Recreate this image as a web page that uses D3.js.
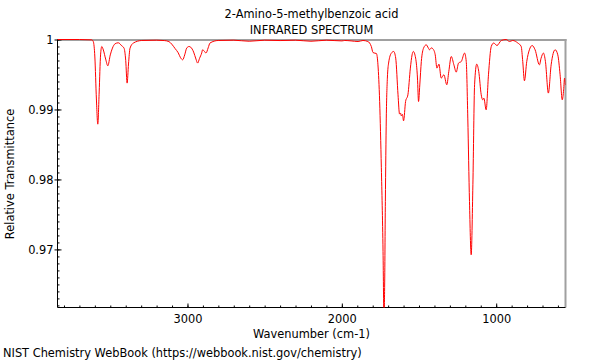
<!DOCTYPE html>
<html><head><meta charset="utf-8">
<script src="https://cdn.jsdelivr.net/npm/d3@7"></script>
<style>body{margin:0;background:#fff;} text{font-family:"DejaVu Sans",sans-serif;font-size:11.4px;fill:#000;}</style>
</head><body><svg id="c" width="600" height="360"></svg>
<script>
const wavenumbers = [3842,3700,3620,3610,3600,3590,3581,3572,3563,3555,3545,3530,3516,3500,3486,3469,3448,3426,3411,3400,3391,3382,3372,3350,3296,3200,3150,3120,3102,3080,3060,3045,3031,3018,3005,2990,2979,2960,2945,2934,2922,2908,2902,2890,2880,2866,2854,2801,2700,2600,2500,2400,2300,2200,2100,2000,1981,1940,1895,1863,1831,1820,1809,1798,1786,1776,1766,1755,1744,1733,1727,1723,1718,1712,1705,1697,1679,1664,1651,1636,1626,1620,1615,1608,1600,1587,1572,1556,1545,1537,1522,1510,1503,1495,1485,1470,1453,1440,1432,1420,1410,1395,1384,1371,1356,1339,1320,1307,1291,1274,1259,1244,1226,1205,1194,1184,1173,1162,1151,1140,1126,1113,1097,1087,1080,1065,1050,1032,1016,995,967,935,914,893,860,838,828,817,802,785,767,748,720,709,694,681,662,644,618,601,586,572,563,557,551];
const transmittance = [1.0,1.0,0.99995,0.9997,0.9975,0.9915,0.9879,0.9925,0.9978,0.9990,0.9985,0.9972,0.99624,0.9978,0.99877,0.99939,0.99953,0.9991,0.99877,0.9970,0.99377,0.9965,0.99877,0.9995,0.99986,0.9999,0.99985,0.9997,0.99934,0.9987,0.9981,0.9974,0.9971,0.9978,0.99877,0.9990,0.9989,0.9982,0.9972,0.99663,0.9973,0.99806,0.99853,0.9983,0.99806,0.9988,0.9995,0.99986,0.9999,0.99975,0.9999,0.99985,0.9999,0.99975,0.9999,0.9998,0.99986,0.9998,0.99971,0.99986,0.99971,0.9995,0.9990,0.99814,0.99805,0.9980,0.99638,0.99114,0.98167,0.9697,0.9600,0.9640,0.97685,0.98877,0.99448,0.99663,0.99806,0.99829,0.99734,0.9921,0.98934,0.9895,0.9891,0.9893,0.98838,0.99114,0.9921,0.99591,0.9978,0.99829,0.99734,0.9945,0.99114,0.9935,0.99686,0.9988,0.99924,0.9988,0.99853,0.9988,0.99867,0.99781,0.99591,0.99648,0.99448,0.99496,0.99353,0.99543,0.99757,0.99638,0.99534,0.99663,0.99686,0.99806,0.99686,0.98877,0.97685,0.96923,0.97924,0.99353,0.99648,0.99543,0.9921,0.99138,0.99162,0.98995,0.99496,0.999,0.9995,0.99914,0.99986,1.0,0.99971,0.99986,0.9995,0.999,0.99686,0.9941,0.99686,0.99853,0.99914,0.99853,0.99638,0.99734,0.99806,0.99686,0.99234,0.99638,0.99853,0.99781,0.99496,0.99138,0.99281,0.99448,0.9935];
const xMajorTicks = [3000, 2000, 1000];
const xMinorTicks = d3.range(600, 3801, 100);
const yMajorTicks = [1, 0.99, 0.98, 0.97];
const yTickLabels = ["1", "0.99", "0.98", "0.97"];
const yMinorTicks = d3.range(962, 1001, 1).map(v => v / 1000);
const titleLines = ["2-Amino-5-methylbenzoic acid", "INFRARED SPECTRUM"];
const xLabel = "Wavenumber (cm-1)";
const yLabel = "Relative Transmittance";
const footer = "NIST Chemistry WebBook (https://webbook.nist.gov/chemistry)";

const L = 57.5, R = 565.5, T = 39.5, B = 307.5;
const FS = 11.4;
const svg = d3.select("#c");
const x = d3.scaleLinear().domain([3842, 551]).range([L, R]);
const y = d3.scaleLinear().domain([0.9617, 1.0]).range([B, T]);

svg.append("defs").append("clipPath").attr("id", "clip")
  .append("rect").attr("x", L).attr("y", T - 2).attr("width", R - L).attr("height", B - T + 2);

// frame top/right (gray)
svg.append("line").attr("x1", L).attr("x2", R + 1).attr("y1", 40).attr("y2", 40)
  .attr("stroke", "#a0a0a0").attr("stroke-width", 2);
svg.append("line").attr("x1", R).attr("x2", R).attr("y1", 39).attr("y2", B)
  .attr("stroke", "#a0a0a0").attr("stroke-width", 2);

// x axis
const gx = svg.append("g").attr("transform", `translate(0,${B})`);
gx.append("g").call(d3.axisBottom(x).tickValues(xMinorTicks).tickSize(-2).tickFormat(""))
  .call(g => g.select(".domain").remove());
gx.append("g").call(d3.axisBottom(x).tickValues(xMajorTicks).tickSize(-4).tickPadding(7).tickFormat(d3.format("d")))
  .call(g => g.select(".domain").remove())
  .call(g => g.selectAll("text").attr("font-size", FS).attr("font-family", "DejaVu Sans").attr("fill", "#000"));
svg.append("line").attr("x1", L).attr("x2", R).attr("y1", B).attr("y2", B).attr("stroke", "#000");

// y axis
const gy = svg.append("g").attr("transform", `translate(${L},0)`);
gy.append("g").call(d3.axisLeft(y).tickValues(yMinorTicks).tickSize(-2).tickFormat(""))
  .call(g => g.select(".domain").remove());
gy.append("g").call(d3.axisRight(y).tickValues(yMajorTicks).tickSize(4).tickFormat(""))
  .call(g => g.select(".domain").remove());
gy.append("g").call(d3.axisLeft(y).tickValues(yMajorTicks).tickSize(3).tickPadding(1)
    .tickFormat((d, i) => yTickLabels[i]))
  .call(g => g.select(".domain").remove())
  .call(g => g.selectAll("text").attr("font-size", FS).attr("font-family", "DejaVu Sans").attr("fill", "#000"));
svg.append("line").attr("x1", L).attr("x2", L).attr("y1", T).attr("y2", B).attr("stroke", "#000");

// spectrum
const pts = wavenumbers.map((w, i) => [w, transmittance[i]]);
svg.append("path").datum(pts)
  .attr("clip-path", "url(#clip)")
  .attr("fill", "none").attr("stroke", "#ff0000").attr("stroke-width", 1)
  .attr("d", d3.line().x(d => x(d[0])).y(d => y(d[1])).curve(d3.curveMonotoneX));

// titles
svg.append("text").attr("x", (L + R) / 2).attr("y", 18).attr("text-anchor", "middle").text(titleLines[0]);
svg.append("text").attr("x", (L + R) / 2).attr("y", 34).attr("text-anchor", "middle").text(titleLines[1]);
svg.append("text").attr("x", (L + R) / 2).attr("y", 337.5).attr("text-anchor", "middle").text(xLabel);
svg.append("text").attr("transform", "translate(14,174) rotate(-90)").attr("text-anchor", "middle").text(yLabel);
svg.append("text").attr("x", 3).attr("y", 357).text(footer);
</script></body></html>
